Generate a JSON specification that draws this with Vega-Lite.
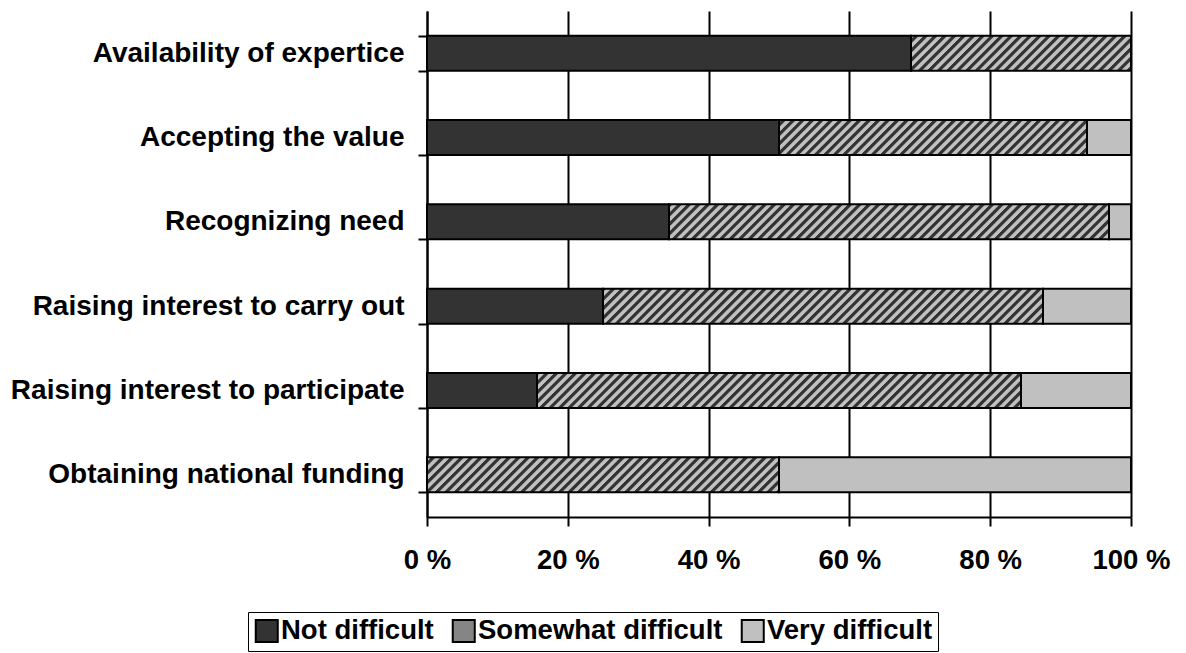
{
"$schema": "https://vega.github.io/schema/vega-lite/v6.json",
"width": 704,
"height": 506,
"autosize": {"type": "none"},
"padding": {"left": 427, "top": 11, "right": 55, "bottom": 136},
"background": "white",
"config": {"font": "Liberation Sans", "view": {"stroke": null}},
"data": {"values": [
{"category":"Availability of expertice","level":"Not difficult","value":68.75},
{"category":"Availability of expertice","level":"Somewhat difficult","value":31.25},
{"category":"Availability of expertice","level":"Very difficult","value":0},
{"category":"Accepting the value","level":"Not difficult","value":50},
{"category":"Accepting the value","level":"Somewhat difficult","value":43.75},
{"category":"Accepting the value","level":"Very difficult","value":6.25},
{"category":"Recognizing need","level":"Not difficult","value":34.375},
{"category":"Recognizing need","level":"Somewhat difficult","value":62.5},
{"category":"Recognizing need","level":"Very difficult","value":3.125},
{"category":"Raising interest to carry out","level":"Not difficult","value":25},
{"category":"Raising interest to carry out","level":"Somewhat difficult","value":62.5},
{"category":"Raising interest to carry out","level":"Very difficult","value":12.5},
{"category":"Raising interest to participate","level":"Not difficult","value":15.625},
{"category":"Raising interest to participate","level":"Somewhat difficult","value":68.75},
{"category":"Raising interest to participate","level":"Very difficult","value":15.625},
{"category":"Obtaining national funding","level":"Not difficult","value":0},
{"category":"Obtaining national funding","level":"Somewhat difficult","value":50},
{"category":"Obtaining national funding","level":"Very difficult","value":50}
]},
"transform": [{"stack": "value", "groupby": ["category"], "sort": [{"field": "level", "order": "ascending"}], "as": ["x0", "x1"]}],
"encoding": {
"y": {"field": "category", "type": "nominal",
"sort": ["Availability of expertice","Accepting the value","Recognizing need","Raising interest to carry out","Raising interest to participate","Obtaining national funding"],
"scale": {"paddingInner": 0.585, "paddingOuter": 0.2925},
"axis": {"title": null, "domain": true, "domainColor": "black", "domainWidth": 2, "ticks": true, "tickColor": "black", "tickWidth": 2, "tickSize": 9, "tickBand": "extent", "grid": false, "labelFont": "Liberation Sans", "labelFontWeight": "bold", "labelFontSize": 28, "labelColor": "black", "labelPadding": 14, "labelLimit": 600}}
},
"layer": [
{"transform": [{"filter": "datum.level === 'Somewhat difficult'"}],
"mark": {"type": "bar", "stroke": null, "fill": {"gradient": "linear", "x1": 0, "y1": 0, "x2": 1.3425, "y2": 0.0667, "stops": [
{"offset":0,"color":"silver"},{"offset":0.004,"color":"silver"},{"offset":0.005,"color":"#333"},{"offset":0.0085,"color":"#333"},
{"offset":0.01,"color":"silver"},{"offset":0.014,"color":"silver"},{"offset":0.015,"color":"#333"},{"offset":0.0185,"color":"#333"},
{"offset":0.02,"color":"silver"},{"offset":0.024,"color":"silver"},{"offset":0.025,"color":"#333"},{"offset":0.0285,"color":"#333"},
{"offset":0.03,"color":"silver"},{"offset":0.034,"color":"silver"},{"offset":0.035,"color":"#333"},{"offset":0.0385,"color":"#333"},
{"offset":0.04,"color":"silver"},{"offset":0.044,"color":"silver"},{"offset":0.045,"color":"#333"},{"offset":0.0485,"color":"#333"},
{"offset":0.05,"color":"silver"},{"offset":0.054,"color":"silver"},{"offset":0.055,"color":"#333"},{"offset":0.0585,"color":"#333"},
{"offset":0.06,"color":"silver"},{"offset":0.064,"color":"silver"},{"offset":0.065,"color":"#333"},{"offset":0.0685,"color":"#333"},
{"offset":0.07,"color":"silver"},{"offset":0.074,"color":"silver"},{"offset":0.075,"color":"#333"},{"offset":0.0785,"color":"#333"},
{"offset":0.08,"color":"silver"},{"offset":0.084,"color":"silver"},{"offset":0.085,"color":"#333"},{"offset":0.0885,"color":"#333"},
{"offset":0.09,"color":"silver"},{"offset":0.094,"color":"silver"},{"offset":0.095,"color":"#333"},{"offset":0.0985,"color":"#333"},
{"offset":0.10,"color":"silver"},{"offset":0.104,"color":"silver"},{"offset":0.105,"color":"#333"},{"offset":0.1085,"color":"#333"},
{"offset":0.11,"color":"silver"},{"offset":0.114,"color":"silver"},{"offset":0.115,"color":"#333"},{"offset":0.1185,"color":"#333"},
{"offset":0.12,"color":"silver"},{"offset":0.124,"color":"silver"},{"offset":0.125,"color":"#333"},{"offset":0.1285,"color":"#333"},
{"offset":0.13,"color":"silver"},{"offset":0.134,"color":"silver"},{"offset":0.135,"color":"#333"},{"offset":0.1385,"color":"#333"},
{"offset":0.14,"color":"silver"},{"offset":0.144,"color":"silver"},{"offset":0.145,"color":"#333"},{"offset":0.1485,"color":"#333"},
{"offset":0.15,"color":"silver"},{"offset":0.154,"color":"silver"},{"offset":0.155,"color":"#333"},{"offset":0.1585,"color":"#333"},
{"offset":0.16,"color":"silver"},{"offset":0.164,"color":"silver"},{"offset":0.165,"color":"#333"},{"offset":0.1685,"color":"#333"},
{"offset":0.17,"color":"silver"},{"offset":0.174,"color":"silver"},{"offset":0.175,"color":"#333"},{"offset":0.1785,"color":"#333"},
{"offset":0.18,"color":"silver"},{"offset":0.184,"color":"silver"},{"offset":0.185,"color":"#333"},{"offset":0.1885,"color":"#333"},
{"offset":0.19,"color":"silver"},{"offset":0.194,"color":"silver"},{"offset":0.195,"color":"#333"},{"offset":0.1985,"color":"#333"},
{"offset":0.20,"color":"silver"},{"offset":0.204,"color":"silver"},{"offset":0.205,"color":"#333"},{"offset":0.2085,"color":"#333"},
{"offset":0.21,"color":"silver"},{"offset":0.214,"color":"silver"},{"offset":0.215,"color":"#333"},{"offset":0.2185,"color":"#333"},
{"offset":0.22,"color":"silver"},{"offset":0.224,"color":"silver"},{"offset":0.225,"color":"#333"},{"offset":0.2285,"color":"#333"},
{"offset":0.23,"color":"silver"},{"offset":0.234,"color":"silver"},{"offset":0.235,"color":"#333"},{"offset":0.2385,"color":"#333"},
{"offset":0.24,"color":"silver"},{"offset":0.244,"color":"silver"},{"offset":0.245,"color":"#333"},{"offset":0.2485,"color":"#333"},
{"offset":0.25,"color":"silver"},{"offset":0.254,"color":"silver"},{"offset":0.255,"color":"#333"},{"offset":0.2585,"color":"#333"},
{"offset":0.26,"color":"silver"},{"offset":0.264,"color":"silver"},{"offset":0.265,"color":"#333"},{"offset":0.2685,"color":"#333"},
{"offset":0.27,"color":"silver"},{"offset":0.274,"color":"silver"},{"offset":0.275,"color":"#333"},{"offset":0.2785,"color":"#333"},
{"offset":0.28,"color":"silver"},{"offset":0.284,"color":"silver"},{"offset":0.285,"color":"#333"},{"offset":0.2885,"color":"#333"},
{"offset":0.29,"color":"silver"},{"offset":0.294,"color":"silver"},{"offset":0.295,"color":"#333"},{"offset":0.2985,"color":"#333"},
{"offset":0.30,"color":"silver"},{"offset":0.304,"color":"silver"},{"offset":0.305,"color":"#333"},{"offset":0.3085,"color":"#333"},
{"offset":0.31,"color":"silver"},{"offset":0.314,"color":"silver"},{"offset":0.315,"color":"#333"},{"offset":0.3185,"color":"#333"},
{"offset":0.32,"color":"silver"},{"offset":0.324,"color":"silver"},{"offset":0.325,"color":"#333"},{"offset":0.3285,"color":"#333"},
{"offset":0.33,"color":"silver"},{"offset":0.334,"color":"silver"},{"offset":0.335,"color":"#333"},{"offset":0.3385,"color":"#333"},
{"offset":0.34,"color":"silver"},{"offset":0.344,"color":"silver"},{"offset":0.345,"color":"#333"},{"offset":0.3485,"color":"#333"},
{"offset":0.35,"color":"silver"},{"offset":0.354,"color":"silver"},{"offset":0.355,"color":"#333"},{"offset":0.3585,"color":"#333"},
{"offset":0.36,"color":"silver"},{"offset":0.364,"color":"silver"},{"offset":0.365,"color":"#333"},{"offset":0.3685,"color":"#333"},
{"offset":0.37,"color":"silver"},{"offset":0.374,"color":"silver"},{"offset":0.375,"color":"#333"},{"offset":0.3785,"color":"#333"},
{"offset":0.38,"color":"silver"},{"offset":0.384,"color":"silver"},{"offset":0.385,"color":"#333"},{"offset":0.3885,"color":"#333"},
{"offset":0.39,"color":"silver"},{"offset":0.394,"color":"silver"},{"offset":0.395,"color":"#333"},{"offset":0.3985,"color":"#333"},
{"offset":0.40,"color":"silver"},{"offset":0.404,"color":"silver"},{"offset":0.405,"color":"#333"},{"offset":0.4085,"color":"#333"},
{"offset":0.41,"color":"silver"},{"offset":0.414,"color":"silver"},{"offset":0.415,"color":"#333"},{"offset":0.4185,"color":"#333"},
{"offset":0.42,"color":"silver"},{"offset":0.424,"color":"silver"},{"offset":0.425,"color":"#333"},{"offset":0.4285,"color":"#333"},
{"offset":0.43,"color":"silver"},{"offset":0.434,"color":"silver"},{"offset":0.435,"color":"#333"},{"offset":0.4385,"color":"#333"},
{"offset":0.44,"color":"silver"},{"offset":0.444,"color":"silver"},{"offset":0.445,"color":"#333"},{"offset":0.4485,"color":"#333"},
{"offset":0.45,"color":"silver"},{"offset":0.454,"color":"silver"},{"offset":0.455,"color":"#333"},{"offset":0.4585,"color":"#333"},
{"offset":0.46,"color":"silver"},{"offset":0.464,"color":"silver"},{"offset":0.465,"color":"#333"},{"offset":0.4685,"color":"#333"},
{"offset":0.47,"color":"silver"},{"offset":0.474,"color":"silver"},{"offset":0.475,"color":"#333"},{"offset":0.4785,"color":"#333"},
{"offset":0.48,"color":"silver"},{"offset":0.484,"color":"silver"},{"offset":0.485,"color":"#333"},{"offset":0.4885,"color":"#333"},
{"offset":0.49,"color":"silver"},{"offset":0.494,"color":"silver"},{"offset":0.495,"color":"#333"},{"offset":0.4985,"color":"#333"},
{"offset":0.50,"color":"silver"},{"offset":0.504,"color":"silver"},{"offset":0.505,"color":"#333"},{"offset":0.5085,"color":"#333"},
{"offset":0.51,"color":"silver"},{"offset":0.514,"color":"silver"},{"offset":0.515,"color":"#333"},{"offset":0.5185,"color":"#333"},
{"offset":0.52,"color":"silver"},{"offset":0.524,"color":"silver"},{"offset":0.525,"color":"#333"},{"offset":0.5285,"color":"#333"},
{"offset":0.53,"color":"silver"},{"offset":0.534,"color":"silver"},{"offset":0.535,"color":"#333"},{"offset":0.5385,"color":"#333"},
{"offset":0.54,"color":"silver"},{"offset":0.544,"color":"silver"},{"offset":0.545,"color":"#333"},{"offset":0.5485,"color":"#333"},
{"offset":0.55,"color":"silver"},{"offset":0.554,"color":"silver"},{"offset":0.555,"color":"#333"},{"offset":0.5585,"color":"#333"},
{"offset":0.56,"color":"silver"},{"offset":0.564,"color":"silver"},{"offset":0.565,"color":"#333"},{"offset":0.5685,"color":"#333"},
{"offset":0.57,"color":"silver"},{"offset":0.574,"color":"silver"},{"offset":0.575,"color":"#333"},{"offset":0.5785,"color":"#333"},
{"offset":0.58,"color":"silver"},{"offset":0.584,"color":"silver"},{"offset":0.585,"color":"#333"},{"offset":0.5885,"color":"#333"},
{"offset":0.59,"color":"silver"},{"offset":0.594,"color":"silver"},{"offset":0.595,"color":"#333"},{"offset":0.5985,"color":"#333"},
{"offset":0.60,"color":"silver"},{"offset":0.604,"color":"silver"},{"offset":0.605,"color":"#333"},{"offset":0.6085,"color":"#333"},
{"offset":0.61,"color":"silver"},{"offset":0.614,"color":"silver"},{"offset":0.615,"color":"#333"},{"offset":0.6185,"color":"#333"},
{"offset":0.62,"color":"silver"},{"offset":0.624,"color":"silver"},{"offset":0.625,"color":"#333"},{"offset":0.6285,"color":"#333"},
{"offset":0.63,"color":"silver"},{"offset":0.634,"color":"silver"},{"offset":0.635,"color":"#333"},{"offset":0.6385,"color":"#333"},
{"offset":0.64,"color":"silver"},{"offset":0.644,"color":"silver"},{"offset":0.645,"color":"#333"},{"offset":0.6485,"color":"#333"},
{"offset":0.65,"color":"silver"},{"offset":0.654,"color":"silver"},{"offset":0.655,"color":"#333"},{"offset":0.6585,"color":"#333"},
{"offset":0.66,"color":"silver"},{"offset":0.664,"color":"silver"},{"offset":0.665,"color":"#333"},{"offset":0.6685,"color":"#333"},
{"offset":0.67,"color":"silver"},{"offset":0.674,"color":"silver"},{"offset":0.675,"color":"#333"},{"offset":0.6785,"color":"#333"},
{"offset":0.68,"color":"silver"},{"offset":0.684,"color":"silver"},{"offset":0.685,"color":"#333"},{"offset":0.6885,"color":"#333"},
{"offset":0.69,"color":"silver"},{"offset":0.694,"color":"silver"},{"offset":0.695,"color":"#333"},{"offset":0.6985,"color":"#333"},
{"offset":0.70,"color":"silver"},{"offset":0.704,"color":"silver"},{"offset":0.705,"color":"#333"},{"offset":0.7085,"color":"#333"},
{"offset":0.71,"color":"silver"},{"offset":0.714,"color":"silver"},{"offset":0.715,"color":"#333"},{"offset":0.7185,"color":"#333"},
{"offset":0.72,"color":"silver"},{"offset":0.724,"color":"silver"},{"offset":0.725,"color":"#333"},{"offset":0.7285,"color":"#333"},
{"offset":0.73,"color":"silver"},{"offset":0.734,"color":"silver"},{"offset":0.735,"color":"#333"},{"offset":0.7385,"color":"#333"},
{"offset":0.74,"color":"silver"},{"offset":0.744,"color":"silver"},{"offset":0.745,"color":"#333"},{"offset":0.7485,"color":"#333"},
{"offset":0.75,"color":"silver"},{"offset":0.754,"color":"silver"},{"offset":0.755,"color":"#333"},{"offset":0.7585,"color":"#333"},
{"offset":0.76,"color":"silver"},{"offset":0.764,"color":"silver"},{"offset":0.765,"color":"#333"},{"offset":0.7685,"color":"#333"},
{"offset":0.77,"color":"silver"},{"offset":0.774,"color":"silver"},{"offset":0.775,"color":"#333"},{"offset":0.7785,"color":"#333"},
{"offset":0.78,"color":"silver"},{"offset":0.784,"color":"silver"},{"offset":0.785,"color":"#333"},{"offset":0.7885,"color":"#333"},
{"offset":0.79,"color":"silver"}
]}},
"encoding": {
"x": {"datum": 0, "type": "quantitative", "scale": {"domain": [0, 100], "nice": false}, "axis": {"title": null, "values": [0, 20, 40, 60, 80, 100], "labelExpr": "datum.value + ' %'", "grid": true, "gridColor": "black", "gridWidth": 2, "domainColor": "black", "domainWidth": 2, "tickColor": "black", "tickWidth": 2, "tickSize": 9, "labelFont": "Liberation Sans", "labelFontWeight": "bold", "labelFontSize": 27.5, "labelColor": "black", "labelPadding": 20, "labelFlush": false, "labelOverlap": false, "labelBound": false}},
"x2": {"datum": 100}
}},
{"mark": {"type": "bar", "stroke": "black", "strokeWidth": 2},
"encoding": {
"x": {"field": "x0", "type": "quantitative", "scale": {"domain": [0, 100], "nice": false}, "axis": {"title": null, "values": [0, 20, 40, 60, 80, 100], "labelExpr": "datum.value + ' %'", "grid": true, "gridColor": "black", "gridWidth": 2, "domainColor": "black", "domainWidth": 2, "tickColor": "black", "tickWidth": 2, "tickSize": 9, "labelFont": "Liberation Sans", "labelFontWeight": "bold", "labelFontSize": 27.5, "labelColor": "black", "labelPadding": 20, "labelFlush": false, "labelOverlap": false, "labelBound": false}},
"x2": {"field": "x1"},
"fillOpacity": {"condition": {"test": "datum.level === 'Somewhat difficult'", "value": 0}, "value": 1},
"color": {"field": "level", "type": "nominal",
"scale": {"domain": ["Not difficult", "Somewhat difficult", "Very difficult"], "range": ["#333333", "#858585", "#c0c0c0"]},
"legend": {"title": null, "orient": "none", "legendX": -179, "legendY": 601, "direction": "horizontal", "symbolType": "square", "symbolSize": 484, "symbolStrokeColor": "black", "symbolStrokeWidth": 2, "symbolOpacity": 1, "symbolOffset": 0, "labelFont": "Liberation Sans", "labelFontSize": 27.5, "labelFontWeight": "bold", "labelColor": "black", "labelOffset": 0.5, "labelLimit": 400, "columnPadding": 14, "padding": 5, "strokeColor": "black"}
}
}}
]
}
